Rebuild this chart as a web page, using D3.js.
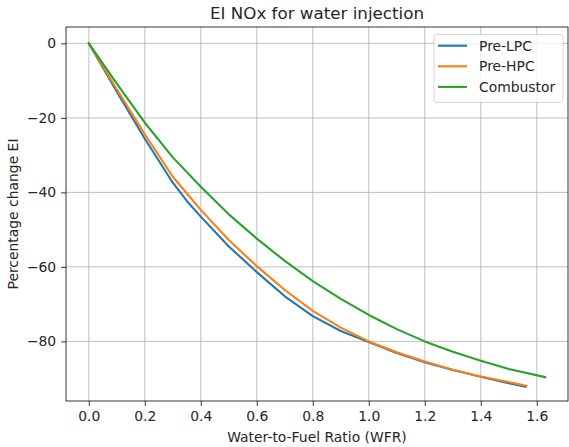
<!DOCTYPE html>
<html>
<head>
<meta charset="utf-8">
<script src="https://cdn.jsdelivr.net/npm/d3@7"></script>
<style>
  body { margin: 0; background: #fff; }
  text { font-family: "DejaVu Sans", sans-serif; fill: #262626; }
</style>
</head>
<body>
<div id="chart"></div>
<script>
// values
var wfrLPC = [0, 0.1, 0.2, 0.3, 0.35, 0.4, 0.5, 0.6, 0.7, 0.8, 0.9, 1.0, 1.1, 1.2, 1.3, 1.4, 1.5, 1.56];
var preLPC = [0, -13, -25.6, -37.4, -42.3, -46.5, -54.5, -61.4, -67.9, -73.2, -77.2, -80.2, -83.1, -85.6, -87.7, -89.5, -91.2, -92.2];

var wfrHPC = [0, 0.1, 0.2, 0.3, 0.4, 0.5, 0.6, 0.7, 0.8, 0.9, 1.0, 1.1, 1.2, 1.3, 1.4, 1.5, 1.563];
var preHPC = [0, -12.3, -24.4, -35.8, -44.7, -52.8, -59.8, -66.2, -71.8, -76.3, -80, -82.9, -85.4, -87.6, -89.4, -90.9, -91.9];

var wfrComb = [0, 0.1, 0.2, 0.3, 0.4, 0.5, 0.6, 0.7, 0.8, 0.9, 1.0, 1.1, 1.2, 1.3, 1.4, 1.5, 1.63];
var combustor = [0, -10.8, -21.3, -30.6, -38.5, -45.9, -52.4, -58.4, -63.8, -68.6, -72.9, -76.7, -80, -82.8, -85.2, -87.4, -89.6];

var seriesNames = ["Pre-LPC", "Pre-HPC", "Combustor"];
var colors = ["#1f77b4", "#ff7f0e", "#2ca02c"];
var xTicks = [0, 0.2, 0.4, 0.6, 0.8, 1.0, 1.2, 1.4, 1.6];
var yTicks = [0, -20, -40, -60, -80];

var series = [
  {name: seriesNames[0], x: wfrLPC, y: preLPC},
  {name: seriesNames[1], x: wfrHPC, y: preHPC},
  {name: seriesNames[2], x: wfrComb, y: combustor}
];

var width = 569, height = 447;
var plotL = 66, plotT = 27, plotR = 568, plotB = 401;

var svg = d3.select("#chart").append("svg")
    .attr("width", width)
    .attr("height", height);

var x = d3.scaleLinear().domain([-0.0815, 1.7115]).range([plotL, plotR]);
var y = d3.scaleLinear().domain([-96, 4.4]).range([plotB, plotT]);

//grid lines
var grid = svg.append("g");
grid.selectAll(".gx").data(xTicks).enter().append("line")
    .attr("x1", d => x(d)).attr("x2", d => x(d))
    .attr("y1", plotT).attr("y2", plotB)
    .attr("stroke", "#b0b0b0").attr("stroke-width", 0.8);
grid.selectAll(".gy").data(yTicks).enter().append("line")
    .attr("x1", plotL).attr("x2", plotR)
    .attr("y1", d => y(d)).attr("y2", d => y(d))
    .attr("stroke", "#b0b0b0").attr("stroke-width", 0.8);

//lines
var line = d3.line()
    .x(d => x(d[0]))
    .y(d => y(d[1]));

svg.selectAll(".series").data(series).enter().append("path")
    .attr("fill", "none")
    .attr("stroke", (d, i) => colors[i])
    .attr("stroke-width", 2.1)
    .attr("stroke-linejoin", "round")
    .attr("stroke-linecap", "square")
    .attr("d", d => line(d.x.map((v, i) => [v, d.y[i]])));

//axes
var xAxis = svg.append("g")
    .attr("transform", "translate(0," + plotB + ")")
    .call(d3.axisBottom(x).tickValues(xTicks).tickFormat(d3.format(".1f")).tickSizeOuter(0).tickSize(4.9).tickPadding(4.9));
var yAxis = svg.append("g")
    .attr("transform", "translate(" + plotL + ",0)")
    .call(d3.axisLeft(y).tickValues(yTicks).tickFormat(d3.format("d")).tickSizeOuter(0).tickSize(4.9).tickPadding(4.9));

[xAxis, yAxis].forEach(function(a) {
  a.select(".domain").remove();
  a.selectAll("line").attr("stroke", "#000").attr("stroke-width", 0.8);
  a.selectAll("text").style("font-size", "13.9px").style("font-family", "DejaVu Sans").attr("fill", "#262626");
});

//frame
svg.append("rect")
    .attr("x", plotL).attr("y", plotT)
    .attr("width", plotR - plotL).attr("height", plotB - plotT)
    .attr("fill", "none").attr("stroke", "#000").attr("stroke-width", 0.8);

//titles
svg.append("text")
    .attr("x", (plotL + plotR) / 2).attr("y", 19)
    .attr("text-anchor", "middle")
    .style("font-size", "16.7px")
    .text("EI NOx for water injection");

svg.append("text")
    .attr("x", (plotL + plotR) / 2).attr("y", 442)
    .attr("text-anchor", "middle")
    .style("font-size", "13.9px")
    .text("Water-to-Fuel Ratio (WFR)");

svg.append("text")
    .attr("transform", "translate(18," + (plotT + plotB) / 2 + ") rotate(-90)")
    .attr("text-anchor", "middle")
    .style("font-size", "13.9px")
    .text("Percentage change EI");

//legend
var legend = svg.append("g");
legend.append("rect")
    .attr("x", 434).attr("y", 34.5)
    .attr("width", 129).attr("height", 68)
    .attr("rx", 3)
    .attr("fill", "#fff").attr("fill-opacity", 0.8)
    .attr("stroke", "#cccccc").attr("stroke-width", 0.8);

var rows = legend.selectAll(".row").data(seriesNames).enter().append("g")
    .attr("transform", (d, i) => "translate(0," + (45.7 + i * 20.6) + ")");
rows.append("line")
    .attr("x1", 438).attr("x2", 467)
    .attr("stroke", (d, i) => colors[i]).attr("stroke-width", 2.1);
rows.append("text")
    .attr("x", 479).attr("y", 5)
    .style("font-size", "13.9px")
    .text(d => d);
</script>
</body>
</html>
